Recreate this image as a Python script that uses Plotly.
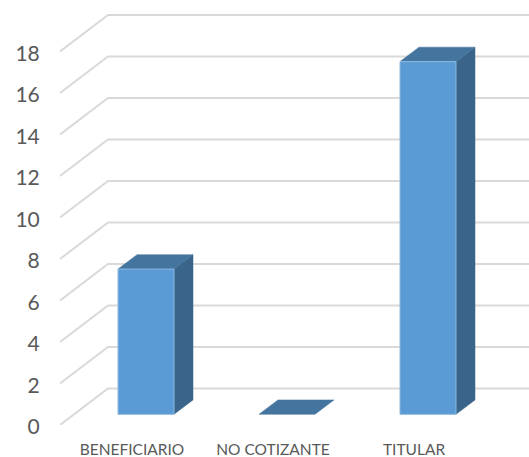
import plotly.graph_objects as go

categories = ["BENEFICIARIO", "NO COTIZANTE", "TITULAR"]
values = [7, 0, 17]
y_ticks = [0, 2, 4, 6, 8, 10, 12, 14, 16, 18]

# oblique projection, in axis units: depth 0 = front edge of the floor, 1 = back wall
DEPTH_X = 48 / 141
DEPTH_Y = 36.5 / 20.75
BAR_HALF = 28 / 141
BAR_FRONT, BAR_BACK = 14 / 48, 33 / 48
X_RANGE = [-72 / 141, 397 / 141]
Y_RANGE = [0, 425 / 20.75]


def proj(x, v, d):
    return x + d * DEPTH_X, v + d * DEPTH_Y


fig = go.Figure()


def poly(points, fill=None, color="#d9d9d9", width=2):
    xs, ys = zip(*points)
    fig.add_trace(go.Scatter(
        x=list(xs), y=list(ys), mode="lines",
        fill="toself" if fill else None, fillcolor=fill,
        line=dict(color=color, width=width),
        showlegend=False, hoverinfo="skip", cliponaxis=False,
    ))


for t in y_ticks:
    poly([proj(X_RANGE[0], t, 0), proj(X_RANGE[0], t, 1), (X_RANGE[1], proj(0, t, 1)[1])])

for i, v in enumerate(values):
    l, r = i - BAR_HALF, i + BAR_HALF
    f, b = BAR_FRONT, BAR_BACK
    if v > 0:
        poly([proj(r, 0, f), proj(r, 0, b), proj(r, v, b), proj(r, v, f), proj(r, 0, f)],
             fill="#3A6489", color="#3A6489", width=0.5)
    poly([proj(l, v, f), proj(l, v, b), proj(r, v, b), proj(r, v, f), proj(l, v, f)],
         fill="#44759F", color="#44759F", width=0.5)
    if v > 0:
        poly([proj(l, 0, f), proj(r, 0, f), proj(r, v, f), proj(l, v, f), proj(l, 0, f)],
             fill="#5B9BD5", color="#8DB9E2", width=1)

fig.update_layout(
    width=529, height=457,
    margin=dict(l=60, r=0, t=0, b=32, autoexpand=False),
    paper_bgcolor="white", plot_bgcolor="white",
    xaxis=dict(range=X_RANGE, tickmode="array", tickvals=[0, 1, 2], ticktext=categories,
               automargin=False, showgrid=False, zeroline=False, showline=False,
               ticks="outside", ticklen=10, tickcolor="rgba(0,0,0,0)",
               tickfont=dict(family="Lato", size=15.5, color="#595959")),
    yaxis=dict(range=Y_RANGE, tickmode="array", tickvals=y_ticks,
               automargin=False, showgrid=False, zeroline=False, showline=False,
               ticks="outside", ticklen=15, tickcolor="rgba(0,0,0,0)", ticklabelshift=2,
               tickfont=dict(family="Lato", size=21, color="#595959")),
)

fig.write_html("out.html", config={"displayModeBar": False},
               post_script="document.body.style.margin='0';")
